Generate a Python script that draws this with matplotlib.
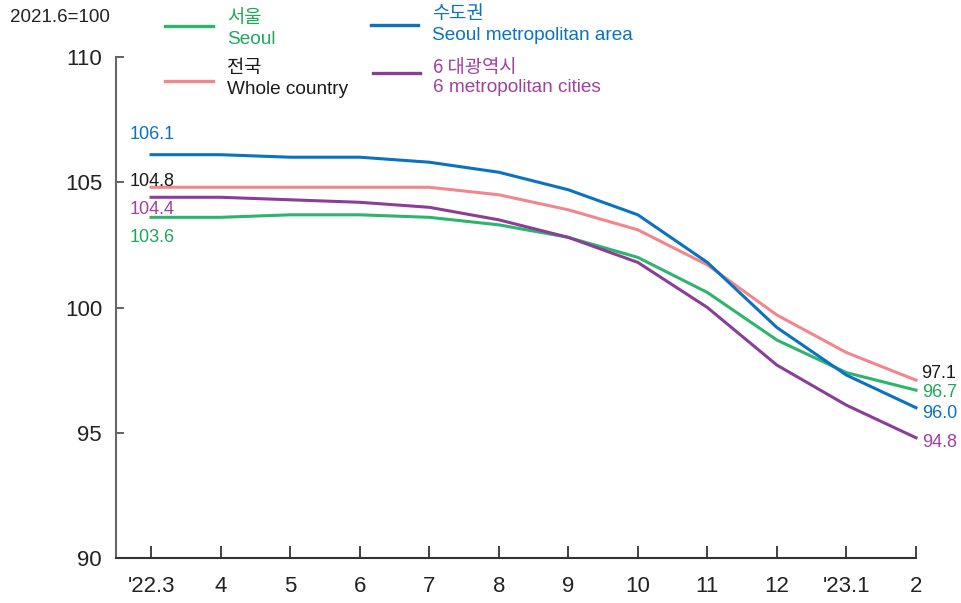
import matplotlib
matplotlib.use("Agg")
import matplotlib.pyplot as plt
from matplotlib.lines import Line2D

months = ["'22.3", "4", "5", "6", "7", "8", "9", "10", "11", "12", "'23.1", "2"]
seoul = [103.6, 103.6, 103.7, 103.7, 103.6, 103.3, 102.8, 102.0, 100.6, 98.7, 97.4, 96.7]
metro_area = [106.1, 106.1, 106.0, 106.0, 105.8, 105.4, 104.7, 103.7, 101.8, 99.2, 97.3, 96.0]
whole = [104.8, 104.8, 104.8, 104.8, 104.8, 104.5, 103.9, 103.1, 101.7, 99.7, 98.2, 97.1]
six_cities = [104.4, 104.4, 104.3, 104.2, 104.0, 103.5, 102.8, 101.8, 100.0, 97.7, 96.1, 94.8]
yticks = [90, 95, 100, 105, 110]

GREEN = "#2db46e"
BLUE = "#0a72bf"
PINK = "#f2868d"
PURPLE = "#8a3e98"
GREEN_T = "#1fa85a"
BLUE_T = "#0a72bf"
PURPLE_T = "#a0409f"

plt.rcParams['font.family'] = ['Liberation Sans', 'Noto Sans CJK KR', 'DejaVu Sans']
KFONT = ['Noto Sans CJK KR', 'Liberation Sans', 'DejaVu Sans']

W, H = 961, 603
fig = plt.figure(figsize=(W / 100, H / 100), dpi=100)
ax = fig.add_axes([116 / W, (H - 558) / H, 800 / W, (558 - 57) / H])

x = list(range(len(months)))
lw = 2.2
ax.plot(x, whole, color=PINK, lw=lw, clip_on=False, zorder=3)
ax.plot(x, seoul, color=GREEN, lw=lw, clip_on=False, zorder=4)
ax.plot(x, six_cities, color=PURPLE, lw=lw, clip_on=False, zorder=4)
ax.plot(x, metro_area, color=BLUE, lw=lw, clip_on=False, zorder=5)

ax.set_xlim(-0.504, 11.0)
ax.set_ylim(90, 110)
ax.set_xticks(x)
ax.set_xticklabels(months)
ax.set_yticks(yticks)
ax.set_yticklabels([str(v) for v in yticks])

for s in ['top', 'right']:
    ax.spines[s].set_visible(False)
ax.spines['left'].set_color('#666666')
ax.spines['bottom'].set_color('#333333')
ax.spines['left'].set_linewidth(1.5)
ax.spines['bottom'].set_linewidth(1.5)
ax.tick_params(axis='x', direction='in', length=9, width=1.3, color='#333333',
               labelsize=16, pad=13, labelcolor='#222222')
ax.tick_params(axis='y', direction='in', length=6, width=1.3, color='#555555',
               labelsize=16, pad=10, labelcolor='#222222')

# value labels
fs_v = 13
def lab(i, v, color, dx, dy, ha='left'):
    ax.annotate(f"{v:.1f}", (i, v), xytext=(dx, dy), textcoords='offset pixels',
                ha=ha, va='center', fontsize=fs_v, color=color, annotation_clip=False)

lab(0, metro_area[0], BLUE_T, -21, 20)
lab(0, whole[0], '#1a1a1a', -21, 6)
lab(0, six_cities[0], PURPLE_T, -21, -12)
lab(0, seoul[0], GREEN_T, -21, -20)
lab(11, whole[-1], '#1a1a1a', 5, 7)
lab(11, seoul[-1], GREEN_T, 6, -2)
lab(11, metro_area[-1], BLUE_T, 6, -6)
lab(11, six_cities[-1], PURPLE_T, 6, -5)

def fx(px):
    return px / W

def fy(py):
    return 1 - py / H

fig.text(fx(10), fy(17), "2021.6=100", fontsize=13.5, color='#222222', ha='left', va='center')

# legend
def leg_line(x0, x1, y, color):
    fig.add_artist(Line2D([fx(x0), fx(x1)], [fy(y), fy(y)], color=color, lw=2.4,
                          transform=fig.transFigure))

leg_line(165, 213, 26, GREEN)
fig.text(fx(227), fy(17), "서울", fontsize=13.5, color=GREEN_T, ha='left', va='center', family=KFONT)
fig.text(fx(227), fy(39), "Seoul", fontsize=13.7, color=GREEN_T, ha='left', va='center')

leg_line(165, 213, 81, PINK)
fig.text(fx(227), fy(67), "전국", fontsize=13.5, color='#1a1a1a', ha='left', va='center', family=KFONT)
fig.text(fx(227), fy(89), "Whole country", fontsize=13.7, color='#1a1a1a', ha='left', va='center')

leg_line(371, 418, 25, BLUE)
fig.text(fx(432), fy(13), "수도권", fontsize=13.5, color=BLUE_T, ha='left', va='center', family=KFONT)
fig.text(fx(432), fy(35), "Seoul metropolitan area", fontsize=13.7, color=BLUE_T, ha='left', va='center')

leg_line(373, 420, 73, PURPLE)
fig.text(fx(433), fy(68), "6 대광역시", fontsize=13.5, color=PURPLE_T, ha='left', va='center', family=KFONT)
fig.text(fx(433), fy(88), "6 metropolitan cities", fontsize=13.7, color=PURPLE_T, ha='left', va='center')

fig.savefig("out.png", dpi=100)
